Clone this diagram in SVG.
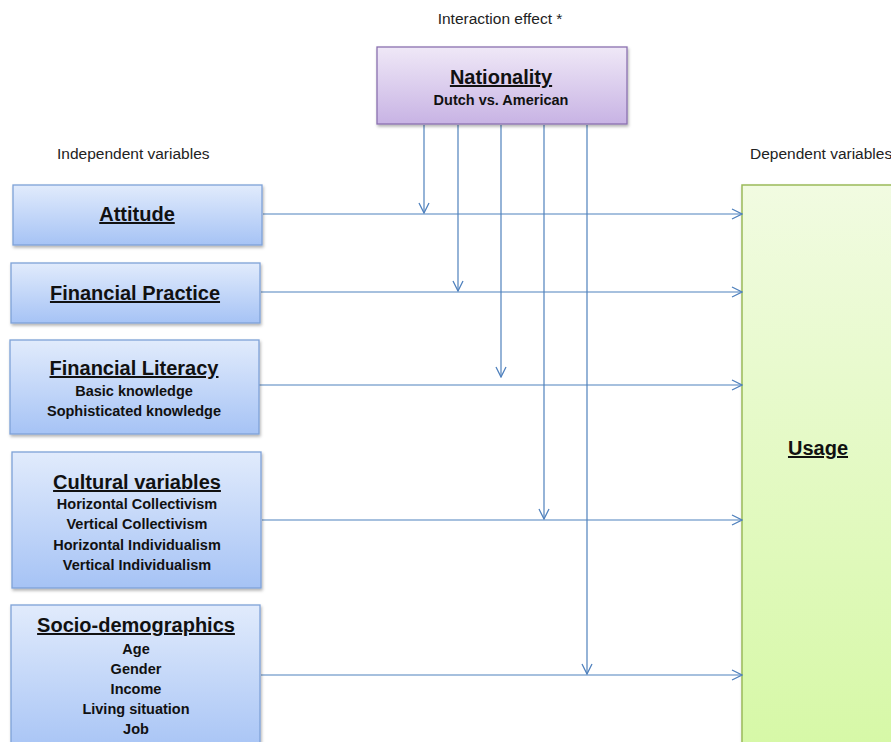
<svg xmlns="http://www.w3.org/2000/svg" width="891" height="742" viewBox="0 0 891 742">
<defs>
<linearGradient id="gBlue" x1="0" y1="0" x2="0" y2="1">
<stop offset="0" stop-color="#e1ebfc"/>
<stop offset="1" stop-color="#a6c3f5"/>
</linearGradient>
<linearGradient id="gPurple" x1="0" y1="0" x2="0" y2="1">
<stop offset="0" stop-color="#efe8f7"/>
<stop offset="1" stop-color="#c8b3e4"/>
</linearGradient>
<linearGradient id="gGreen" x1="0" y1="0" x2="0" y2="1">
<stop offset="0" stop-color="#f1fbe1"/>
<stop offset="1" stop-color="#d6f8a6"/>
</linearGradient>
<filter id="sh" x="-5%" y="-5%" width="115%" height="120%">
<feDropShadow dx="1" dy="2" stdDeviation="1.5" flood-color="#000" flood-opacity="0.3"/>
</filter>
<marker id="arr" viewBox="0 0 12 12" refX="11" refY="6" markerWidth="12" markerHeight="12" markerUnits="userSpaceOnUse" orient="auto">
<path d="M1,1 L11,6 L1,11" fill="none" stroke="#4f81bd" stroke-width="1.3"/>
</marker>
</defs>
<style>
.blue{fill:url(#gBlue);stroke:#7ea2d8;stroke-width:1.3}
.purple{fill:url(#gPurple);stroke:#8a70b0;stroke-width:1.3}
.green{fill:url(#gGreen);stroke:#9bbb59;stroke-width:1.5}
.t{font-family:"Liberation Sans",Arial,sans-serif;font-weight:bold;font-size:20px;fill:#111;text-anchor:middle;text-decoration:underline}
.s{font-family:"Liberation Sans",Arial,sans-serif;font-weight:bold;font-size:14.5px;fill:#111;text-anchor:middle}
.l{font-family:"Liberation Sans",Arial,sans-serif;font-size:15.5px;fill:#222}
.c{fill:none;stroke:#4f81bd;stroke-width:1.2;marker-end:url(#arr)}
</style>
<rect width="891" height="742" fill="#fff"/>
<text class="l" x="500" y="24" text-anchor="middle">Interaction effect *</text>
<text class="l" x="57" y="159">Independent variables</text>
<text class="l" x="750" y="159">Dependent variables</text>

<g id="usage">
<rect class="green" x="742" y="185" width="160" height="570" filter="url(#sh)"/>
<text class="t" x="818" y="455">Usage</text>
</g>

<g id="connectors">
<line class="c" x1="263" y1="214" x2="742" y2="214"/>
<line class="c" x1="261" y1="292" x2="742" y2="292"/>
<line class="c" x1="259" y1="385" x2="742" y2="385"/>
<line class="c" x1="262" y1="520" x2="742" y2="520"/>
<line class="c" x1="261" y1="675" x2="742" y2="675"/>
<line class="c" x1="424" y1="125" x2="424" y2="213"/>
<line class="c" x1="458" y1="125" x2="458" y2="291"/>
<line class="c" x1="501" y1="125" x2="501" y2="377"/>
<line class="c" x1="544" y1="125" x2="544" y2="519"/>
<line class="c" x1="587" y1="125" x2="587" y2="674"/>
</g>

<g id="nationality">
<rect class="purple" x="377" y="47" width="250" height="77" filter="url(#sh)"/>
<text class="t" x="501" y="84">Nationality</text>
<text class="s" x="501" y="105">Dutch vs. American</text>
</g>

<g id="attitude">
<rect class="blue" x="13" y="185" width="249" height="60" filter="url(#sh)"/>
<text class="t" x="137" y="221">Attitude</text>
</g>

<g id="financial-practice">
<rect class="blue" x="11" y="263" width="249" height="60" filter="url(#sh)"/>
<text class="t" x="135" y="300">Financial Practice</text>
</g>

<g id="financial-literacy">
<rect class="blue" x="10" y="340" width="249" height="94" filter="url(#sh)"/>
<text class="t" x="134" y="375">Financial Literacy</text>
<text class="s" x="134" y="396">Basic knowledge</text>
<text class="s" x="134" y="416">Sophisticated knowledge</text>
</g>

<g id="cultural-variables">
<rect class="blue" x="12" y="452" width="249" height="136" filter="url(#sh)"/>
<text class="t" x="137" y="489">Cultural variables</text>
<text class="s" x="137" y="509">Horizontal Collectivism</text>
<text class="s" x="137" y="529">Vertical Collectivism</text>
<text class="s" x="137" y="550">Horizontal Individualism</text>
<text class="s" x="137" y="570">Vertical Individualism</text>
</g>

<g id="socio-demographics">
<rect class="blue" x="11" y="605" width="249" height="150" filter="url(#sh)"/>
<text class="t" x="136" y="632">Socio-demographics</text>
<text class="s" x="136" y="654">Age</text>
<text class="s" x="136" y="674">Gender</text>
<text class="s" x="136" y="694">Income</text>
<text class="s" x="136" y="714">Living situation</text>
<text class="s" x="136" y="734">Job</text>
</g>
</svg>
